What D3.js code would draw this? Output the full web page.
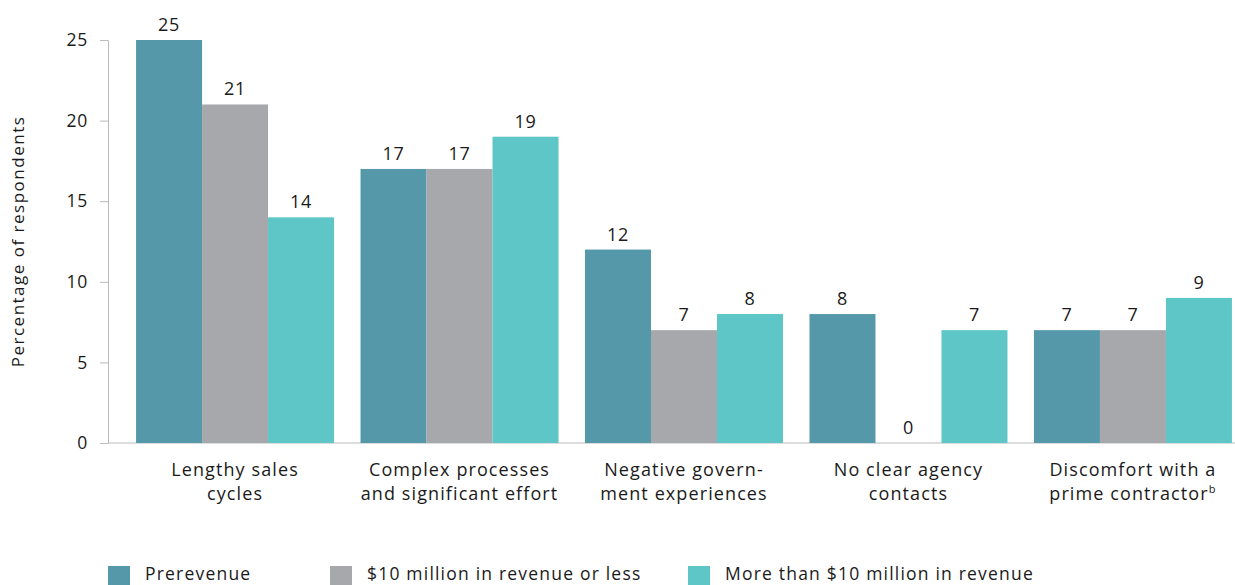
<!DOCTYPE html>
<html><head><meta charset="utf-8">
<script src="https://cdn.jsdelivr.net/npm/d3@7"></script>
<style>body{margin:0;background:#fff;} text{font-family:"Open Sans",sans-serif;fill:#1a1a1a;font-weight:500;}</style>
</head><body><svg id="c" width="1235" height="585"></svg>
<script>
const categories = [["Lengthy sales","cycles"],["Complex processes","and significant effort"],["Negative govern-","ment experiences"],["No clear agency","contacts"],["Discomfort with a","prime contractor"]];
const seriesNames = ["Prerevenue","$10 million in revenue or less","More than $10 million in revenue"];
const prerevenue = [25,17,12,8,7];
const small = [21,17,7,0,7];
const large = [14,19,8,7,9];
const yTicks = [0,5,10,15,20,25];
const colors = ["#5498aa","#a7a8ab","#5ec6c7"];

const series = [prerevenue, small, large];
const svg = d3.select("#c");
const y = d3.scaleLinear().domain([0,25]).range([443,40]);
const x0 = d3.scaleBand().domain(d3.range(categories.length)).range([108,1260]).paddingInner(0.118).paddingOuter(0.125);
const x1 = d3.scaleBand().domain(d3.range(series.length)).range([0,x0.bandwidth()]);

// axis
const ax = svg.append("g").attr("transform","translate(108,0)").call(d3.axisLeft(y).tickValues(yTicks).tickSize(8).tickPadding(12));
ax.select(".domain").attr("stroke","#bbb");
ax.selectAll(".tick line").attr("stroke","#bbb");
ax.selectAll(".tick text").style("font-size","17.5px").style("font-family","'Open Sans',sans-serif").style("font-weight","500").style("letter-spacing","0.8px").attr("fill","#1a1a1a");
svg.append("line").attr("x1",108).attr("x2",1235).attr("y1",y(0)).attr("y2",y(0)).attr("stroke","#bbb");

svg.append("text").attr("transform","translate(24,"+((y(0)+y(25))/2)+") rotate(-90)").attr("text-anchor","middle").style("font-size","17px").style("letter-spacing","1.5px").text("Percentage of respondents");

const g = svg.append("g");
categories.forEach((c,i)=>{
  series.forEach((s,j)=>{
    const v = s[i];
    const bx = x0(i)+x1(j);
    if (v>0) g.append("rect").attr("x",bx).attr("y",y(v)).attr("width",x1.bandwidth()).attr("height",y(0)-y(v)).attr("fill",colors[j]);
    g.append("text").attr("x",bx+x1.bandwidth()/2).attr("y",y(v)-9).attr("text-anchor","middle").style("font-size","18px").style("letter-spacing","0.8px").text(v);
  });
  const cx = x0(i)+x0.bandwidth()/2;
  const t = g.append("text").attr("text-anchor","middle").style("font-size","18px").style("letter-spacing","1.1px");
  t.append("tspan").attr("x",cx).attr("y",476).text(c[0]);
  t.append("tspan").attr("x",cx).attr("y",500).text(c[1]);
  if (i===4) t.append("tspan").attr("dy",-7).style("font-size","11px").text("b");
});

// legend
const legX = [108,330,688];
seriesNames.forEach((n,j)=>{
  svg.append("rect").attr("x",legX[j]).attr("y",566).attr("width",22).attr("height",22).attr("fill",colors[j]);
  svg.append("text").attr("x",legX[j]+37).attr("y",580).style("font-size","17.5px").style("letter-spacing","1.2px").text(n);
});
</script></body></html>
